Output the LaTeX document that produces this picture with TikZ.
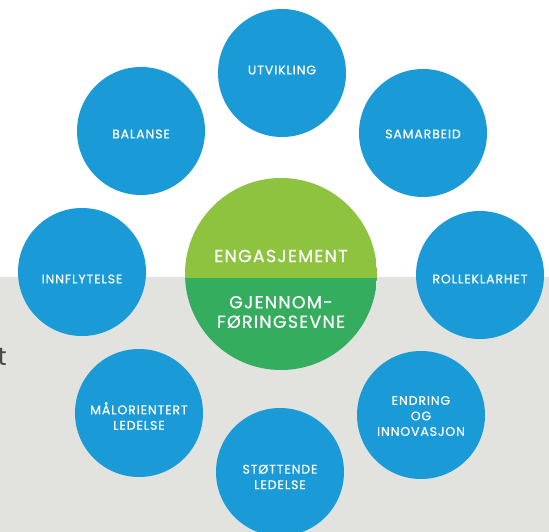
\documentclass[tikz,border=0pt]{standalone}
\usepackage{fontspec}
\setmainfont{Poppins}[LetterSpace=7,FakeBold=0.6]
\newfontfamily\plainfont{Poppins}[Scale=1]
\definecolor{cblue}{HTML}{1A9BD7}
\definecolor{lgreen}{HTML}{8DC33F}
\definecolor{dgreen}{HTML}{35AD5F}
\definecolor{bggray}{HTML}{E2E2DE}
\definecolor{tgray}{HTML}{4A4A4A}
\begin{document}
\begin{tikzpicture}[x=1pt,y=-1pt,
  bub/.style={circle,fill=cblue,minimum size=128pt,inner sep=0pt},
  btext/.style={text=white,font=\fontsize{12.5}{15.5}\selectfont,align=center,inner sep=0pt},
  ctext/.style={text=white,font=\fontsize{17.5}{19.5}\selectfont,align=center,inner sep=0pt}]
\useasboundingbox (0,0) rectangle (549,532);
\fill[white] (0,0) rectangle (549,277);
\fill[bggray] (0,277) rectangle (549,532);
\node[text=tgray,font=\plainfont\fontsize{25}{28}\selectfont,anchor=base west,inner sep=0pt] (t) at (-2.5,365) {t};
\node[bub] (utv) at (282,73) {};
\node[bub] (sam) at (423,133) {};
\node[bub] (bal) at (141,131) {};
\node[bub] (inn) at (82,272) {};
\node[bub] (rol) at (480,275) {};
\node[bub] (end) at (421,415) {};
\node[bub] (mal) at (139,413) {};
\node[bub] (sto) at (280,472) {};
\node[btext] at (282,70) {UTVIKLING};
\node[btext] at (423,134) {SAMARBEID};
\node[btext] at (141,134) {BALANSE};
\node[btext] at (82,279) {INNFLYTELSE};
\node[btext] at (480,279) {ROLLEKLARHET};
\node[btext] at (421,416) {ENDRING\\OG\\INNOVASJON};
\node[btext] at (139,416) {MÅLORIENTERT\\LEDELSE};
\node[btext] at (280,477) {STØTTENDE\\LEDELSE};
\coordinate (c) at (281,274);
\begin{scope}
  \clip (c) circle (96);
  \fill[lgreen] (185,170) rectangle (377,278);
  \fill[dgreen] (185,278) rectangle (377,380);
\end{scope}
\node[ctext] (eng) at (281,256) {ENGASJEMENT};
\node[ctext] (gjf) at (281,312) {GJENNOM-\\FØRINGSEVNE};
\end{tikzpicture}
\end{document}
